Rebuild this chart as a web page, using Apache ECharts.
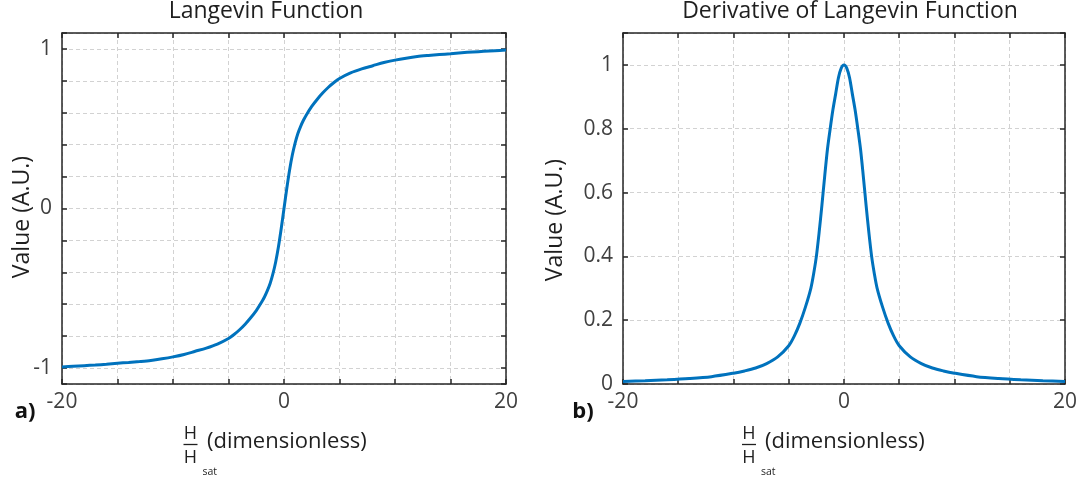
<!DOCTYPE html>
<html><head><meta charset="utf-8">
<script src="https://cdn.jsdelivr.net/npm/echarts@6/dist/echarts.min.js"></script>
<style>html,body{margin:0;padding:0;background:#fff}#c{width:1080px;height:485px}</style>
</head><body><div id="c"></div>
<script>
// ---- data ----
const titles = ['Langevin Function', 'Derivative of Langevin Function'];
const yName = 'Value (A.U.)';
const panelTags = ['a)', 'b)'];
const xTickLabels = [-20, 0, 20];

const xLangevin = [-20,-19,-18,-17,-16,-15,-14,-13,-12,-11,-10,-9,-8,-7,-6,-5,-4.5,-4,-3.5,-3,-2.5,-2,-1.75,-1.5,-1.25,-1,-0.75,-0.5,-0.25,0,0.25,0.5,0.75,1,1.25,1.5,1.75,2,2.5,3,3.5,4,4.5,5,6,7,8,9,10,11,12,13,14,15,16,17,18,19,20];
const yLangevin = [-0.993,-0.989,-0.985,-0.981,-0.976,-0.970,-0.965,-0.959,-0.952,-0.942,-0.930,-0.915,-0.895,-0.875,-0.850,-0.815,-0.790,-0.760,-0.725,-0.685,-0.640,-0.585,-0.553,-0.515,-0.470,-0.410,-0.335,-0.240,-0.125,0,0.125,0.240,0.335,0.410,0.470,0.515,0.553,0.585,0.640,0.685,0.725,0.760,0.790,0.815,0.850,0.875,0.895,0.915,0.930,0.942,0.952,0.959,0.965,0.970,0.976,0.981,0.985,0.989,0.993];

const xDeriv = [-20,-18,-16,-14,-12,-10,-9,-8,-7,-6,-5,-4.5,-4,-3.5,-3,-2.75,-2.5,-2.25,-2,-1.75,-1.5,-1.25,-1,-0.75,-0.5,-0.25,0,0.25,0.5,0.75,1,1.25,1.5,1.75,2,2.25,2.5,2.75,3,3.5,4,4.5,5,6,7,8,9,10,12,14,16,18,20];
const yDeriv = [0.008,0.010,0.013,0.017,0.023,0.034,0.041,0.050,0.064,0.085,0.120,0.150,0.190,0.240,0.300,0.345,0.400,0.475,0.560,0.650,0.735,0.800,0.860,0.910,0.960,0.990,1.000,0.990,0.960,0.910,0.860,0.800,0.735,0.650,0.560,0.475,0.400,0.345,0.300,0.240,0.190,0.150,0.120,0.085,0.064,0.050,0.041,0.034,0.023,0.017,0.013,0.010,0.008];

const zip = (xs, ys) => xs.map((x, i) => [x, ys[i]]);

// ---- styling ----
const FONT = 'Open Sans';
const AX = '#262626';
const TXT = '#1f1f1f';
const LBL = '#404040';
const BLUE = '#0072BD';

function xAxis(gi, pos, main) {
  return {
    type: 'value', gridIndex: gi, position: pos, min: -20, max: 20, interval: 5,
    axisLine: { show: true, onZero: false, lineStyle: { color: AX, width: 1.5 } },
    axisTick: { show: true, inside: true, length: 5, lineStyle: { color: AX, width: 1.5 } },
    axisLabel: { show: main, margin: 8, fontSize: 21, color: LBL, fontFamily: FONT,
      formatter: v => (xTickLabels.indexOf(v) >= 0 ? String(v) : '') },
    splitLine: { show: main, lineStyle: { color: '#d2d2d2', type: [4, 3], width: 1 } }
  };
}
function yAxis(gi, pos, main, min, max, splitNumber, fmt) {
  return {
    type: 'value', gridIndex: gi, position: pos, min: min, max: max, splitNumber: splitNumber,
    axisLine: { show: true, onZero: false, lineStyle: { color: AX, width: 1.5 } },
    axisTick: { show: true, inside: true, length: 5, lineStyle: { color: AX, width: 1.5 } },
    axisLabel: { show: main, margin: 10, fontSize: 21, color: LBL, fontFamily: FONT, formatter: fmt },
    splitLine: { show: main, lineStyle: { color: '#d2d2d2', type: [4, 3], width: 1 } }
  };
}
const fmtLeft = v => {
  const r = Math.round(v);
  return Math.abs(v - r) < 1e-9 ? String(r) : '';
};
const fmtRight = v => (v > 1.05 ? '' : String(Math.round(v * 10) / 10));

function txt(x, y, text, size, opts) {
  return Object.assign({ type: 'text', x: x, y: y,
    style: Object.assign({ text: text, fontSize: size, fontFamily: FONT, fill: TXT, align: 'center', verticalAlign: 'middle' }, (opts && opts.style) || {}) },
    (opts && opts.el) || {});
}
function fraction(cx, textX) {
  return [
    txt(cx, 434, 'H', 18),
    { type: 'line', shape: { x1: cx - 7, y1: 444.5, x2: cx + 7, y2: 444.5 }, style: { stroke: TXT, lineWidth: 1.3 } },
    txt(cx, 457.5, 'H', 18),
    txt(cx + 12, 472, 'sat', 10.5, { style: { align: 'left' } }),
    txt(textX, 441.5, '(dimensionless)', 22, { style: { align: 'left' } })
  ];
}

const chart = echarts.init(document.getElementById('c'), null, { renderer: 'canvas' });
chart.setOption({
  animation: false,
  backgroundColor: '#fff',
  grid: [
    { left: 62, top: 33, width: 444, height: 351 },
    { left: 623, top: 33, width: 444, height: 351 }
  ],
  xAxis: [xAxis(0, 'bottom', true), xAxis(0, 'top', false), xAxis(1, 'bottom', true), xAxis(1, 'top', false)],
  yAxis: [
    yAxis(0, 'left', true, -1.1, 1.1, 12, fmtLeft), yAxis(0, 'right', false, -1.1, 1.1, 12, fmtLeft),
    yAxis(1, 'left', true, 0, 1.1, 6, fmtRight), yAxis(1, 'right', false, 0, 1.1, 6, fmtRight)
  ],
  series: [
    { type: 'line', xAxisIndex: 0, yAxisIndex: 0, data: zip(xLangevin, yLangevin), smooth: 0.3,
      showSymbol: false, lineStyle: { color: BLUE, width: 3 }, z: 5 },
    { type: 'line', xAxisIndex: 2, yAxisIndex: 2, data: zip(xDeriv, yDeriv), smooth: 0.3,
      showSymbol: false, lineStyle: { color: BLUE, width: 3 }, z: 5 }
  ],
  graphic: [
    txt(266, 11, titles[0], 23),
    txt(850, 11, titles[1], 23),
    txt(22, 217, yName, 23, { el: { rotation: Math.PI / 2 } }),
    txt(555, 220, yName, 23, { el: { rotation: Math.PI / 2 } }),
    txt(25, 412, panelTags[0], 22, { style: { fontWeight: 'bold', fill: '#111' } }),
    txt(583, 412, panelTags[1], 22, { style: { fontWeight: 'bold', fill: '#111' } })
  ].concat(fraction(190.5, 207), fraction(749, 765))
});
</script>
</body></html>
